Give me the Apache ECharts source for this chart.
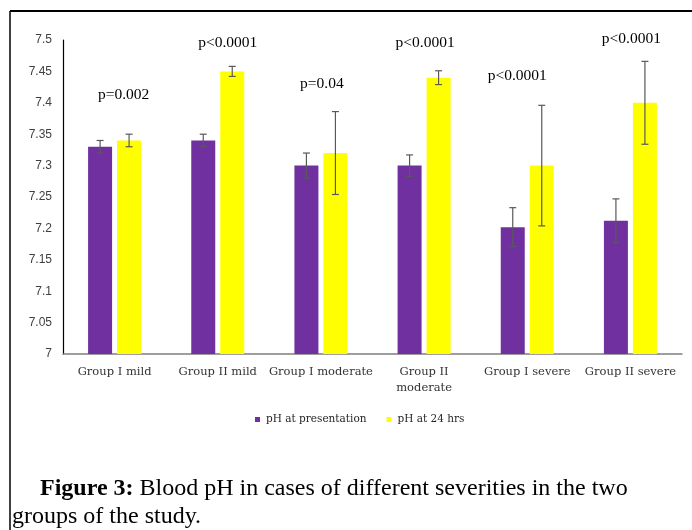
<!DOCTYPE html>
<html>
<head>
<meta charset="utf-8">
<script src="https://cdn.jsdelivr.net/npm/echarts@6/dist/echarts.min.js"></script>
<style>
html,body{margin:0;padding:0;background:#fff;}
#chart{width:692px;height:530px;}
</style>
</head>
<body>
<div id="chart"></div>
<script>
// ---- data ----
const categories = ['Group I mild', 'Group II mild', 'Group I moderate', 'Group II\nmoderate', 'Group I severe', 'Group II severe'];
const seriesNames = ['pH at presentation', 'pH at 24 hrs'];
const phPresentation = [7.33, 7.34, 7.30, 7.30, 7.202, 7.212];
const phPresentationErr = [0.010, 0.010, 0.020, 0.017, 0.031, 0.035];
const ph24 = [7.34, 7.45, 7.32, 7.44, 7.30, 7.40];
const ph24Err = [0.010, 0.008, 0.066, 0.011, 0.096, 0.066];
const pLabels = ['p=0.002', 'p<0.0001', 'p=0.04', 'p<0.0001', 'p<0.0001', 'p<0.0001'];
const pLabelY = [7.412, 7.496, 7.430, 7.495, 7.443, 7.501];
const yMin = 7, yMax = 7.5, yStep = 0.05;
const captionBold = 'Figure 3:';
const captionLine1 = ' Blood pH in cases of different severities in the two';
const captionLine2 = 'groups of the study.';

// ---- style ----
const BAR_W = 24, BAR_GAP_PX = 5;
const pLabelDx = [9, 10, 1, 1, -10, 1];
const serif = 'DejaVu Serif';
const times = 'Liberation Serif';

function errorSeries(values, errs, sideSign) {
  return {
    type: 'custom',
    silent: true,
    z: 5,
    data: values.map((v, i) => [i, v, errs[i]]),
    renderItem: function (params, api) {
      const i = api.value(0), v = api.value(1), e = api.value(2);
      const dx = sideSign * (BAR_W + BAR_GAP_PX) / 2;
      const top = api.coord([i, v + e]);
      const bot = api.coord([i, v - e]);
      const x = top[0] + dx;
      const cap = 3.5;
      const st = { stroke: '#595959', lineWidth: 1.2 };
      return {
        type: 'group',
        children: [
          { type: 'line', shape: { x1: x, y1: top[1], x2: x, y2: bot[1] }, style: st },
          { type: 'line', shape: { x1: x - cap, y1: top[1], x2: x + cap, y2: top[1] }, style: st },
          { type: 'line', shape: { x1: x - cap, y1: bot[1], x2: x + cap, y2: bot[1] }, style: st }
        ]
      };
    }
  };
}

const chart = echarts.init(document.getElementById('chart'), null, { renderer: 'canvas' });
const option = {
  backgroundColor: '#fff',
  animation: false,
  grid: { left: 63, right: 10, top: 40, bottom: 176, containLabel: false },
  legend: {
    data: seriesNames,
    left: 250, top: 409,
    icon: 'rect', itemWidth: 5, itemHeight: 5, itemGap: 20,
    textStyle: { fontFamily: serif, fontSize: 10.5, color: '#262626', padding: [0, 0, 0, 1] }
  },
  xAxis: {
    type: 'category',
    data: categories,
    axisLine: { lineStyle: { color: '#7f7f7f', width: 1.5 } },
    axisTick: { show: false },
    axisLabel: { fontFamily: serif, fontSize: 11.5, color: '#333', margin: 10, lineHeight: 16, interval: 0 }
  },
  yAxis: {
    type: 'value',
    min: yMin, max: yMax, interval: yStep,
    axisLine: { show: true, lineStyle: { color: '#000', width: 1.2 } },
    axisTick: { show: false },
    splitLine: { show: false },
    axisLabel: {
      fontFamily: 'Liberation Sans', fontSize: 12, color: '#404040', margin: 11,
      formatter: v => String(+v.toFixed(2))
    }
  },
  series: [
    {
      name: seriesNames[0], type: 'bar', data: phPresentation,
      barWidth: BAR_W, barGap: (BAR_GAP_PX / BAR_W * 100) + '%',
      itemStyle: { color: '#7030A0' }
    },
    {
      name: seriesNames[1], type: 'bar', data: ph24,
      barWidth: BAR_W, barGap: (BAR_GAP_PX / BAR_W * 100) + '%',
      itemStyle: { color: '#FFFF00' }
    },
    errorSeries(phPresentation, phPresentationErr, -1),
    errorSeries(ph24, ph24Err, 1),
    {
      type: 'custom',
      silent: true,
      z: 6,
      data: pLabels.map((t, i) => [i, pLabelY[i]]),
      renderItem: function (params, api) {
        const i = api.value(0);
        const p = api.coord([i, api.value(1)]);
        return {
          type: 'text',
          style: {
            x: p[0] + pLabelDx[i], y: p[1],
            text: pLabels[i],
            font: '15.5px "' + times + '"',
            fill: '#000',
            align: 'center', verticalAlign: 'middle'
          }
        };
      }
    }
  ],
  graphic: [
    { type: 'line', shape: { x1: 10, y1: 11, x2: 692, y2: 11 }, style: { stroke: '#000', lineWidth: 2 } },
    { type: 'line', shape: { x1: 10, y1: 11, x2: 10, y2: 530 }, style: { stroke: '#000', lineWidth: 1.5 } },
    {
      type: 'text', left: 40, top: 477,
      style: {
        text: '{b|' + captionBold + '}' + captionLine1,
        font: '24px "' + times + '"', fill: '#000',
        rich: { b: { fontFamily: times, fontSize: 24, fontWeight: 'bold', fill: '#000' } }
      }
    },
    {
      type: 'text', left: 12, top: 505,
      style: { text: captionLine2, font: '24px "' + times + '"', fill: '#000' }
    }
  ]
};
chart.setOption(option);
</script>
</body>
</html>
